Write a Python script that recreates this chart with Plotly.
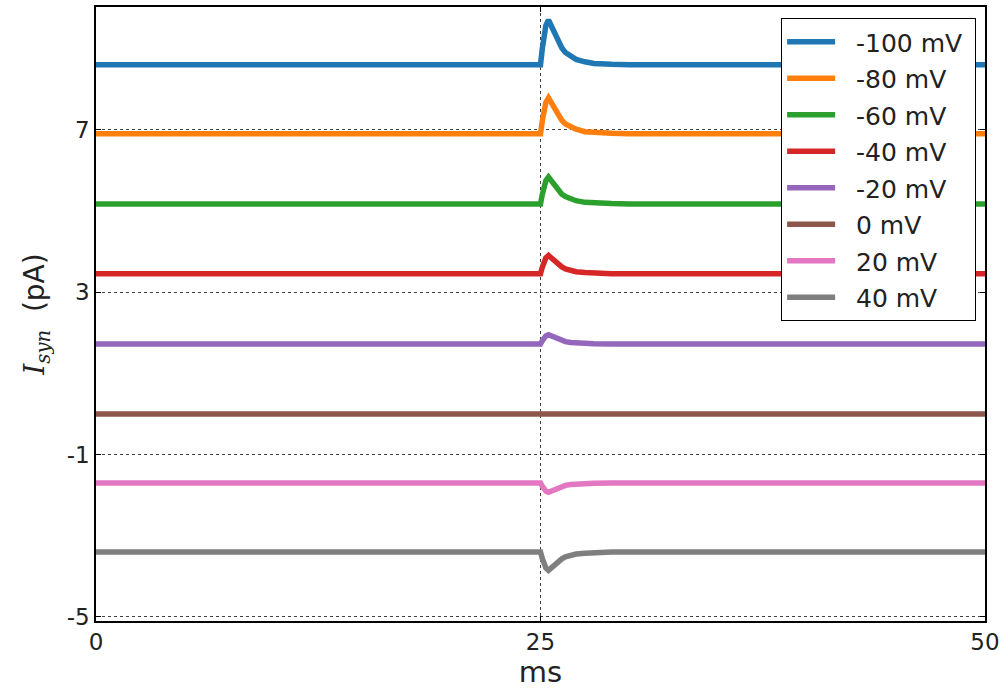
import plotly.graph_objects as go

t_ms = [0, 25.0, 25.1, 25.2, 25.3, 25.45, 25.6, 25.8, 26.0, 26.2, 26.4, 26.7, 27.0, 27.5, 28.0, 29.0, 30.0, 50]

labels = ["-100 mV", "-80 mV", "-60 mV", "-40 mV", "-20 mV", "0 mV", "20 mV", "40 mV"]
colors = ["#1f77b4", "#ff7f0e", "#2ca02c", "#d62728", "#9467bd", "#8c564b", "#e377c2", "#7f7f7f"]

i_m100 = [8.6, 8.6, 8.99, 9.32, 9.56, 9.70, 9.55, 9.33, 9.15, 9.01, 8.90, 8.80, 8.73, 8.67, 8.63, 8.61, 8.6, 8.6]
i_m80 = [6.9, 6.9, 7.21, 7.47, 7.67, 7.78, 7.66, 7.48, 7.34, 7.23, 7.14, 7.06, 7.01, 6.95, 6.93, 6.91, 6.9, 6.9]
i_m60 = [5.17, 5.17, 5.40, 5.60, 5.74, 5.83, 5.74, 5.61, 5.50, 5.41, 5.35, 5.29, 5.25, 5.21, 5.19, 5.18, 5.17, 5.17]
i_m40 = [3.45, 3.45, 3.61, 3.74, 3.84, 3.90, 3.84, 3.75, 3.68, 3.62, 3.57, 3.53, 3.50, 3.48, 3.46, 3.45, 3.45, 3.45]
i_m20 = [1.72, 1.72, 1.80, 1.87, 1.92, 1.95, 1.92, 1.87, 1.84, 1.81, 1.78, 1.76, 1.75, 1.73, 1.73, 1.72, 1.72, 1.72]
i_0 = [0.0] * 18
i_p20 = [-1.70, -1.70, -1.78, -1.85, -1.90, -1.93, -1.90, -1.85, -1.82, -1.79, -1.76, -1.74, -1.73, -1.71, -1.71, -1.70, -1.70, -1.70]
i_p40 = [-3.40, -3.40, -3.56, -3.69, -3.79, -3.85, -3.79, -3.70, -3.63, -3.57, -3.52, -3.48, -3.45, -3.43, -3.41, -3.40, -3.40, -3.40]

series = [i_m100, i_m80, i_m60, i_m40, i_m20, i_0, i_p20, i_p40]

x_ticks = [0, 25, 50]
y_ticks = [-5, -1, 3, 7]

fig = go.Figure()
for k, (lab, col, ys) in enumerate(zip(labels, colors, series)):
    fig.add_trace(go.Scatter(x=t_ms, y=ys, mode="lines", name="\u00a0\u00a0" + lab + "\u00a0",
                             legendgroup=f"g{k}",
                             line=dict(color=col, width=5.5)))

font_family = "DejaVu Sans"
axis_common = dict(showline=True, linecolor="black", linewidth=1.5, mirror="ticks",
                   ticks="inside", ticklen=5, tickcolor="black",
                   showgrid=True, gridcolor="rgba(0,0,0,0.75)", griddash="dot", gridwidth=1,
                   zeroline=False, tickfont=dict(size=23, color="#222"))

fig.update_layout(
    width=1005, height=690,
    margin=dict(l=96, r=17, t=5, b=69),
    plot_bgcolor="white", paper_bgcolor="white",
    font=dict(family=font_family, color="#222"),
    showlegend=True,
    legend=dict(x=0.99, y=0.982, xanchor="right", yanchor="top",
                bordercolor="black", borderwidth=1, bgcolor="white",
                tracegroupgap=1, itemwidth=48,
                font=dict(size=25, color="#222")),
)
fig.update_xaxes(range=[0, 50], tickvals=x_ticks, ticktext=[str(v) for v in x_ticks],
                 title=dict(text="ms", font=dict(size=29, color="#222"), standoff=4), **axis_common)
fig.update_yaxes(range=[-5.1, 10.02], tickvals=y_ticks, ticktext=[str(v) for v in y_ticks],
                 title=dict(text="<span style='font-family:DejaVu Serif'><i>I</i><sub><i>syn</i></sub></span>  (pA)",
                            font=dict(size=28, color="#222"), standoff=14), **axis_common)

fig.write_html("out.html", config={"displayModeBar": False},
               post_script="document.body.style.margin='0px';")
